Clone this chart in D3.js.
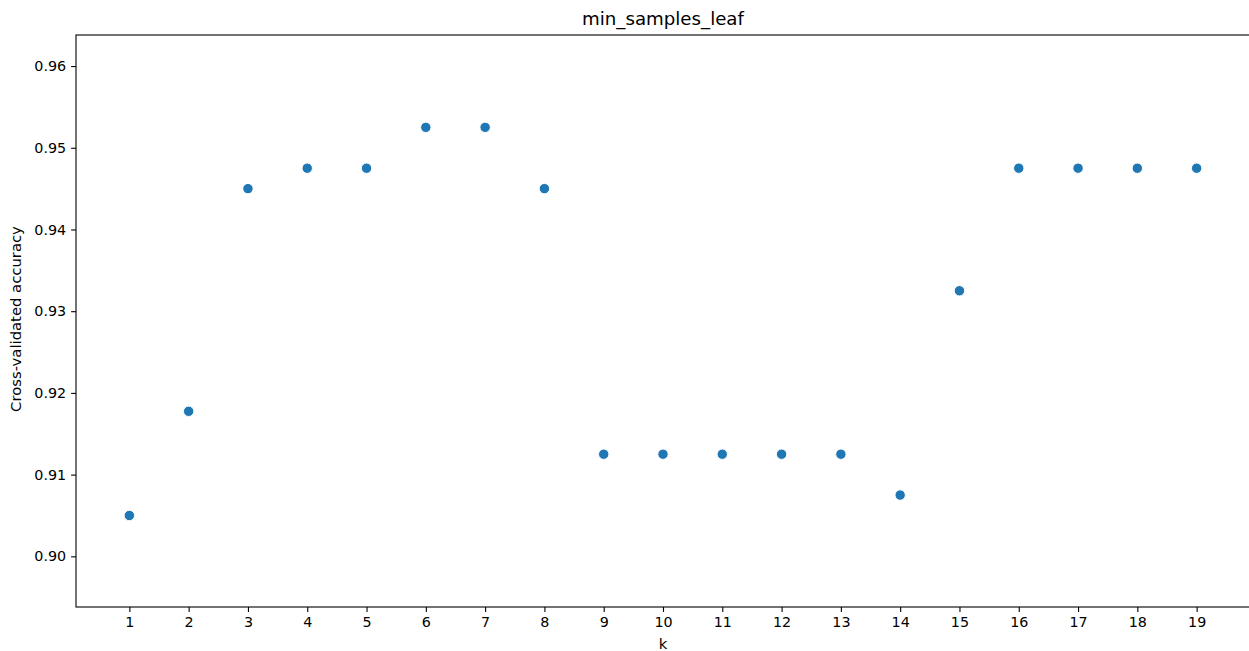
<!DOCTYPE html>
<html>
<head>
<meta charset="utf-8">
<script src="https://cdn.jsdelivr.net/npm/d3@7"></script>
<style>
  html, body { margin: 0; padding: 0; background: #fff; }
  svg { display: block; font-family: "DejaVu Sans", sans-serif; }
</style>
</head>
<body>
<svg id="chart" width="1249" height="651"></svg>
<script>
// Cross-validated accuracy for each min_samples_leaf value k
const kValues = [1, 2, 3, 4, 5, 6, 7, 8, 9, 10, 11, 12, 13, 14, 15, 16, 17, 18, 19];
const accuracy = [0.905, 0.91775, 0.945, 0.9475, 0.9475, 0.9525, 0.9525, 0.945,
                  0.9125, 0.9125, 0.9125, 0.9125, 0.9125, 0.9075, 0.9325,
                  0.9475, 0.9475, 0.9475, 0.9475];
const yTicks = [0.90, 0.91, 0.92, 0.93, 0.94, 0.95, 0.96];
const xDomain = [0.1, 19.9];
const yDomain = [0.8938, 0.9638];

const svg = d3.select("#chart");
const margin = { left: 76, right: 1250, top: 35, bottom: 607 };

const x = d3.scaleLinear().domain(xDomain).range([margin.left, margin.right]);
const y = d3.scaleLinear().domain(yDomain).range([margin.bottom, margin.top]);

// x axis
const xAxis = d3.axisBottom(x).tickValues(kValues).tickFormat(d3.format("d"))
  .tickSizeInner(4.9).tickSizeOuter(0).tickPadding(4.9);
const gx = svg.append("g").attr("transform", `translate(0,${margin.bottom})`).call(xAxis);

// y axis
const yAxis = d3.axisLeft(y).tickValues(yTicks).tickFormat(d3.format(".2f"))
  .tickSizeInner(4.9).tickSizeOuter(0).tickPadding(4.9);
const gy = svg.append("g").attr("transform", `translate(${margin.left},0)`).call(yAxis);

[gx, gy].forEach(g => {
  g.select(".domain").remove();
  g.selectAll(".tick line").attr("stroke", "#000").attr("stroke-width", 1.1);
  g.selectAll(".tick text").attr("fill", "#000").style("font-size", "14.3px")
    .style("font-family", "DejaVu Sans, sans-serif");
});

// frame
svg.append("rect")
  .attr("x", margin.left).attr("y", margin.top)
  .attr("width", margin.right - margin.left).attr("height", margin.bottom - margin.top)
  .attr("fill", "none").attr("stroke", "#000").attr("stroke-width", 1.1);

// points
svg.append("g").selectAll("circle")
  .data(kValues.map((k, i) => ({ k, v: accuracy[i] })))
  .join("circle")
  .attr("cx", d => x(d.k))
  .attr("cy", d => y(d.v))
  .attr("r", 5.2)
  .attr("fill", "#1f77b4")
  .attr("stroke", "#fff")
  .attr("stroke-width", 1.0);

// title and labels
svg.append("text").attr("x", (margin.left + margin.right) / 2).attr("y", 25)
  .attr("text-anchor", "middle").style("font-size", "18.2px").attr("fill", "#000")
  .text("min_samples_leaf");
svg.append("text").attr("x", (margin.left + margin.right) / 2).attr("y", 649)
  .attr("text-anchor", "middle").style("font-size", "14.8px").attr("fill", "#000")
  .text("k");
svg.append("text")
  .attr("transform", `translate(21,${(margin.top + margin.bottom) / 2 - 2}) rotate(-90)`)
  .attr("text-anchor", "middle").style("font-size", "14.8px").attr("fill", "#000")
  .text("Cross-validated accuracy");
</script>
</body>
</html>
